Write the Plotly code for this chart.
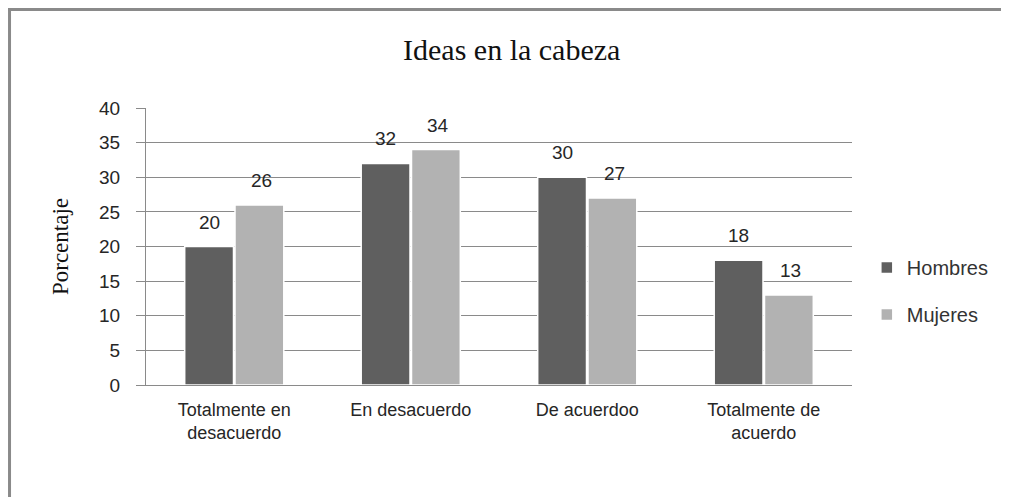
import plotly.graph_objects as go

# Data
categorias = ["Totalmente en<br>desacuerdo", "En desacuerdo", "De acuerdoo", "Totalmente de<br>acuerdo"]
hombres = [20, 32, 30, 18]
mujeres = [26, 34, 27, 13]

COLOR_H = "#5f5f5f"
COLOR_M = "#b2b2b2"
GRID = "#8a8a8a"
TXT = "#262626"
SANS = "Liberation Sans"
SERIF = "Liberation Serif"

fig = go.Figure()
fig.add_trace(go.Bar(
    x=categorias, y=hombres, name="Hombres", legendgroup="h",
    marker=dict(color=COLOR_H, line=dict(color="white", width=1.5)),
))
fig.add_trace(go.Bar(
    x=categorias, y=mujeres, name="Mujeres", legendgroup="m",
    marker=dict(color=COLOR_M, line=dict(color="white", width=1.5)),
))

# value labels above bars
annotations = []
for vals, shift in [(hombres, -25), (mujeres, 27)]:
    for cat, v in zip(categorias, vals):
        annotations.append(dict(
            x=cat, y=v, xref="x", yref="y", text=str(v), showarrow=False,
            xshift=shift, yshift=12, yanchor="bottom",
            font=dict(family=SANS, size=19, color=TXT),
        ))

fig.update_layout(
    width=1009, height=497,
    margin=dict(l=138, r=165, t=100, b=120),
    paper_bgcolor="white", plot_bgcolor="white",
    title=dict(text="Ideas en la cabeza", xref="paper", x=0.518, xanchor="center",
               y=0.9155, yanchor="middle",
               font=dict(family=SERIF, size=30, color="#111")),
    barmode="group", bargap=0.43, bargroupgap=0.03,
    showlegend=True,
    legend=dict(x=1.021, y=0.339, xanchor="left", yanchor="middle", tracegroupgap=18,
                font=dict(family=SANS, size=20, color="#333"), bgcolor="rgba(0,0,0,0)"),
    annotations=annotations,
    shapes=[dict(type="rect", xref="paper", yref="paper", x0=-0.1933, x1=1.3, y0=-0.5, y1=1.3556,
                 line=dict(color="#8a8a8a", width=3), fillcolor="rgba(0,0,0,0)", layer="below")],
)
fig.update_xaxes(
    showline=True, linecolor=GRID, linewidth=1, showgrid=False, ticks="",
    tickfont=dict(family=SANS, size=18, color=TXT), ticklabelstandoff=8,
)
fig.update_yaxes(
    range=[0, 40], dtick=5, showgrid=True, gridcolor=GRID, gridwidth=1,
    showline=True, linecolor=GRID, linewidth=1, ticks="outside", ticklen=9, tickcolor=GRID,
    tickfont=dict(family=SANS, size=19, color=TXT), zeroline=False, ticklabelstandoff=12,
    title=dict(text="Porcentaje", font=dict(family=SERIF, size=23, color="#111"), standoff=24),
)

fig.write_html("out.html")
